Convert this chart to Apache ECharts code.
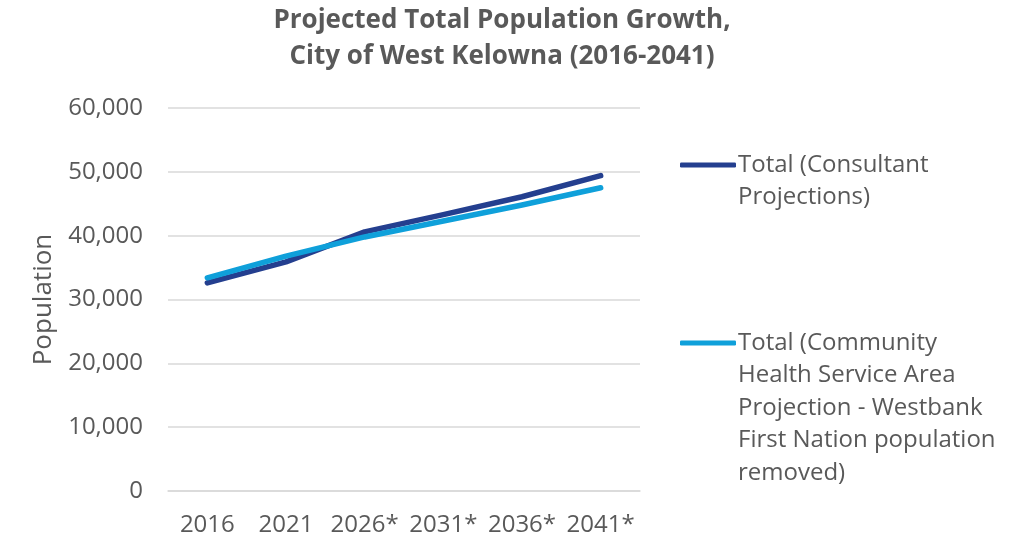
<!DOCTYPE html>
<html>
<head>
<meta charset="utf-8">
<script src="https://cdn.jsdelivr.net/npm/echarts@6/dist/echarts.min.js"></script>
<style>
  html, body { margin: 0; padding: 0; background: #fff; }
  #chart { width: 1021px; height: 537px; }
</style>
</head>
<body>
<div id="chart"></div>
<script>
// Projected population, City of West Kelowna
const years = ['2016', '2021', '2026*', '2031*', '2036*', '2041*'];
const consultant = [32600, 35900, 40600, 43300, 46100, 49400];
const chsa = [33400, 36800, 39800, 42300, 44800, 47500];
const seriesNames = [
  'Total (Consultant Projections)',
  'Total (Community Health Service Area Projection - Westbank First Nation population removed)'
];
const legendLabels = [
  ['Total (Consultant', 'Projections)'],
  ['Total (Community', 'Health Service Area', 'Projection - Westbank', 'First Nation population', 'removed)']
];
const yTicks = { min: 0, max: 60000, interval: 10000 };

const font = '"Open Sans", "Noto Sans", sans-serif';
const textColor = '#595959';
const legendLine = 32.5;

const chart = echarts.init(document.getElementById('chart'));

// One legend per series; the wrapped label hangs down from the icon,
// so its first line sits level with the line swatch. Leading blank
// lines keep the centred text block's first line on the icon.
function legendFor(i, iconCenterY) {
  const n = legendLabels[i].length;
  const boxTop = iconCenterY - (2 * n - 1) * legendLine / 2;
  const label = '\n'.repeat(n - 1) + legendLabels[i].join('\n');
  return {
    data: [seriesNames[i]],
    left: 675,
    top: boxTop - 5,
    orient: 'vertical',
    itemWidth: 56,
    itemHeight: 5,
    itemGap: 0,
    icon: 'roundRect',
    formatter: () => label,
    textStyle: {
      fontFamily: font,
      fontSize: 24,
      color: textColor,
      lineHeight: legendLine,
      padding: [0, 0, 0, -3]
    }
  };
}

chart.setOption({
  animation: false,
  title: {
    text: 'Projected Total Population Growth,\nCity of West Kelowna (2016-2041)',
    left: 502,
    textAlign: 'center',
    top: 3,
    padding: 0,
    textStyle: {
      fontFamily: font,
      fontSize: 26,
      fontWeight: 'bold',
      color: textColor,
      lineHeight: 36
    }
  },
  legend: [legendFor(0, 165), legendFor(1, 343)],
  grid: { left: 168, right: 381, top: 108, bottom: 46 },
  xAxis: {
    type: 'category',
    data: years,
    boundaryGap: true,
    axisLine: { show: true, lineStyle: { color: '#d9d9d9', width: 1.5 } },
    axisTick: { show: false },
    axisLabel: { interval: 0, fontFamily: font, fontSize: 24, color: textColor, margin: 22 }
  },
  yAxis: {
    type: 'value',
    min: yTicks.min,
    max: yTicks.max,
    interval: yTicks.interval,
    name: 'Population',
    nameLocation: 'middle',
    nameGap: 111,
    nameTextStyle: { fontFamily: font, fontSize: 26, color: textColor },
    axisLine: { show: false },
    axisTick: { show: false },
    splitLine: { lineStyle: { color: '#d9d9d9', width: 1.5 } },
    axisLabel: {
      fontFamily: font,
      fontSize: 24,
      color: textColor,
      margin: 25,
      formatter: v => v.toLocaleString('en-US')
    }
  },
  series: [
    {
      name: seriesNames[0],
      type: 'line',
      data: consultant,
      symbol: 'none',
      lineStyle: { color: '#243F8F', width: 5.5, cap: 'round', join: 'round' },
      itemStyle: { color: '#243F8F' }
    },
    {
      name: seriesNames[1],
      type: 'line',
      data: chsa,
      symbol: 'none',
      lineStyle: { color: '#0FA0DA', width: 5.5, cap: 'round', join: 'round' },
      itemStyle: { color: '#0FA0DA' }
    }
  ]
});
</script>
</body>
</html>
